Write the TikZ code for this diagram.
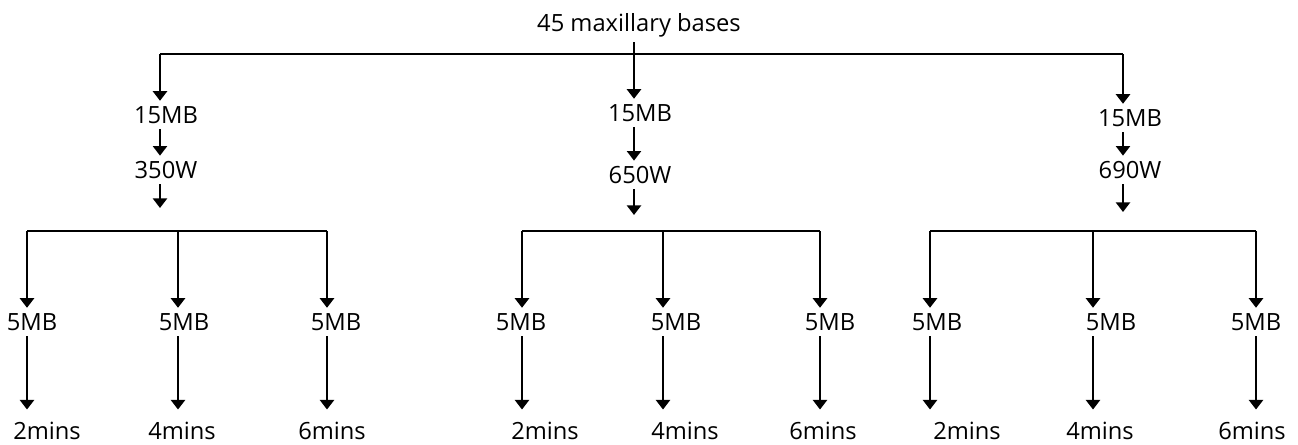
\documentclass[tikz,border=0pt]{standalone}
\usepackage{fontspec}
\setmainfont{Open Sans}
\usetikzlibrary{arrows.meta, positioning}

\begin{document}
\begin{tikzpicture}[
  x=0.02cm, y=-0.02cm,
  lbl/.style={inner xsep=0pt, inner ysep=3pt, font=\fontsize{13.5}{16}\selectfont},
  timebox/.style={lbl, inner ysep=7pt},
  arrow/.style={-{Triangle[width=8pt, length=5.5pt]}, line width=1.4pt},
  bar/.style={line width=0.8pt}
]
\useasboundingbox (0,0) rectangle (1298,444);

% top level
\node[lbl] (title) at (639,25) {45 maxillary bases};
\node[lbl] (mbA) at (166,115) {15MB};
\node[lbl] (mbB) at (640,113) {15MB};
\node[lbl] (mbC) at (1130,118) {15MB};
\node[lbl] (wA) at (166,170) {350W};
\node[lbl] (wB) at (640,175) {650W};
\node[lbl] (wC) at (1130,170) {690W};

\coordinate (xA) at (160,54);
\coordinate (xB) at (634,54);
\coordinate (xC) at (1123,54);
\coordinate (dA) at (160,208);
\coordinate (dB) at (634,215);
\coordinate (dC) at (1123,212);

\draw[bar] (xA) -- (xC);
\draw[arrow] (xA) -- (xA |- mbA.north);
\draw[arrow] (xB |- title.south) -- (xB |- mbB.north);
\draw[arrow] (xC) -- (xC |- mbC.north);
\draw[arrow] (xA |- mbA.south) -- (xA |- wA.north);
\draw[arrow] (xB |- mbB.south) -- (xB |- wB.north);
\draw[arrow] (xC |- mbC.south) -- (xC |- wC.north);
\draw[arrow] (xA |- wA.south) -- (dA);
\draw[arrow] (xB |- wB.south) -- (dB);
\draw[arrow] (xC |- wC.south) -- (dC);

% bottom level
\node[lbl] (f1) at (32,322) {5MB};
\node[lbl] (f2) at (184,322) {5MB};
\node[lbl] (f3) at (336,322) {5MB};
\node[lbl] (f4) at (521,322) {5MB};
\node[lbl] (f5) at (676,322) {5MB};
\node[lbl] (f6) at (830,322) {5MB};
\node[lbl] (f7) at (937,322) {5MB};
\node[lbl] (f8) at (1111,322) {5MB};
\node[lbl] (f9) at (1256,322) {5MB};

\node[timebox] (t1) at (47,431) {2mins};
\node[timebox] (t2) at (182,431) {4mins};
\node[timebox] (t3) at (332,431) {6mins};
\node[timebox] (t4) at (545,431) {2mins};
\node[timebox] (t5) at (685,431) {4mins};
\node[timebox] (t6) at (823,431) {6mins};
\node[timebox] (t7) at (967,431) {2mins};
\node[timebox] (t8) at (1100,431) {4mins};
\node[timebox] (t9) at (1252,431) {6mins};

\coordinate (g1) at (27,231);
\coordinate (g2) at (178,231);
\coordinate (g3) at (327,231);
\coordinate (g4) at (522,231);
\coordinate (g5) at (663,231);
\coordinate (g6) at (820,231);
\coordinate (g7) at (930,231);
\coordinate (g8) at (1093,231);
\coordinate (g9) at (1256,231);

\draw[bar] (g1) -- (g3);
\draw[bar] (g4) -- (g6);
\draw[bar] (g7) -- (g9);

\draw[arrow] (g1) -- (g1 |- f1.north);
\draw[arrow] (g2) -- (g2 |- f2.north);
\draw[arrow] (g3) -- (g3 |- f3.north);
\draw[arrow] (g4) -- (g4 |- f4.north);
\draw[arrow] (g5) -- (g5 |- f5.north);
\draw[arrow] (g6) -- (g6 |- f6.north);
\draw[arrow] (g7) -- (g7 |- f7.north);
\draw[arrow] (g8) -- (g8 |- f8.north);
\draw[arrow] (g9) -- (g9 |- f9.north);

\draw[arrow] (g1 |- f1.south) -- (g1 |- t1.north);
\draw[arrow] (g2 |- f2.south) -- (g2 |- t2.north);
\draw[arrow] (g3 |- f3.south) -- (g3 |- t3.north);
\draw[arrow] (g4 |- f4.south) -- (g4 |- t4.north);
\draw[arrow] (g5 |- f5.south) -- (g5 |- t5.north);
\draw[arrow] (g6 |- f6.south) -- (g6 |- t6.north);
\draw[arrow] (g7 |- f7.south) -- (g7 |- t7.north);
\draw[arrow] (g8 |- f8.south) -- (g8 |- t8.north);
\draw[arrow] (g9 |- f9.south) -- (g9 |- t9.north);

\end{tikzpicture}
\end{document}
